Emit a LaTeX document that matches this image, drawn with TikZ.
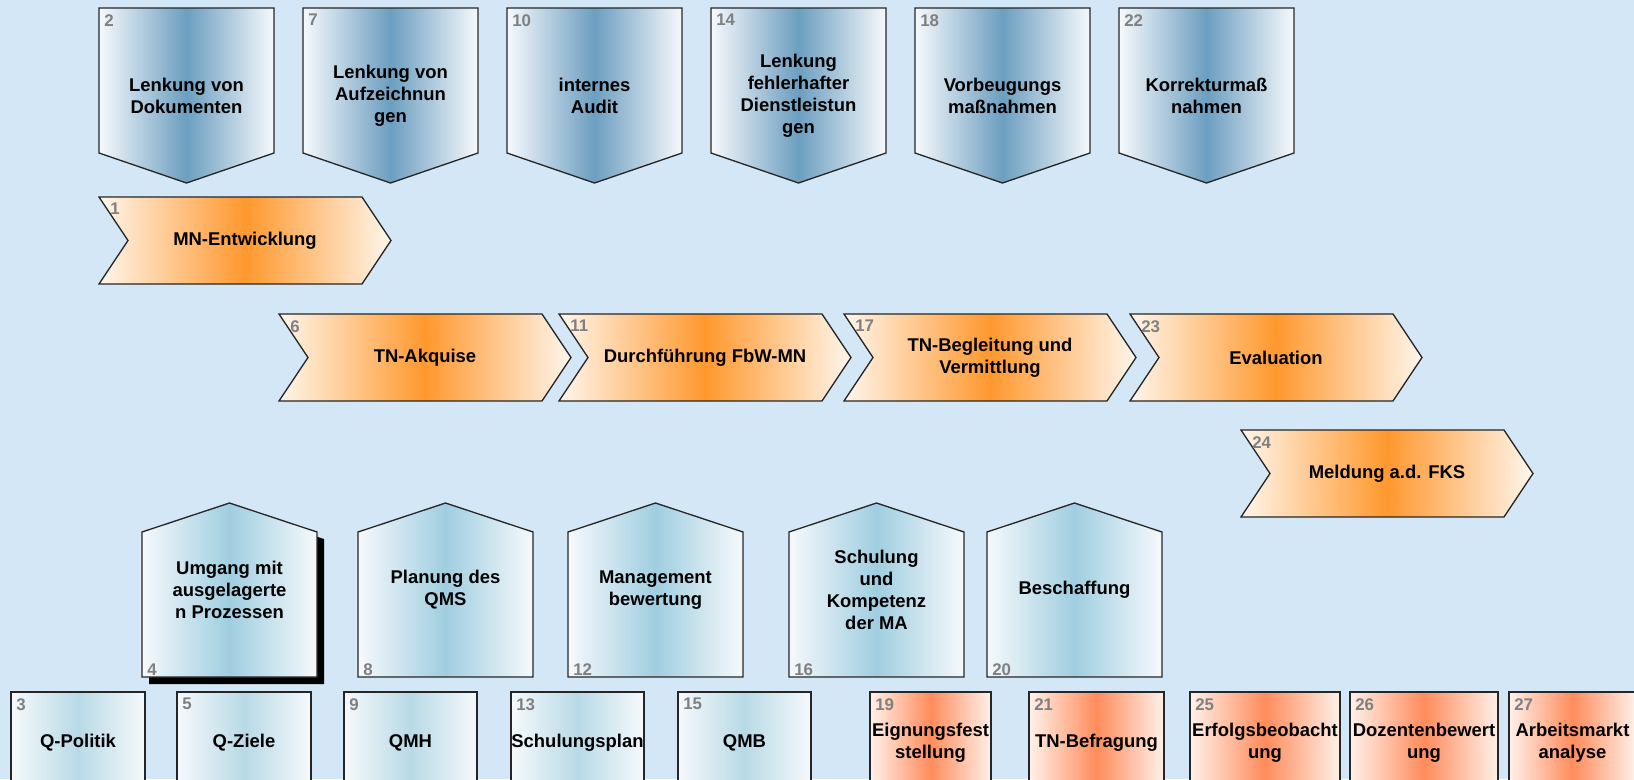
\documentclass[tikz,border=0pt]{standalone}
\usepackage{fontspec}
\setmainfont{Liberation Sans}
\definecolor{hintergrund}{RGB}{212,231,246}
\definecolor{stahlblau}{RGB}{108,158,192}
\definecolor{hausblau}{RGB}{160,206,224}
\definecolor{kastenblau}{RGB}{184,218,230}
\definecolor{randweiss}{RGB}{246,249,252}
\definecolor{prozessorange}{RGB}{255,152,46}
\definecolor{orangehell}{RGB}{255,246,236}
\definecolor{lachs}{RGB}{255,140,92}
\definecolor{lachshell}{RGB}{255,241,234}
\definecolor{nummergrau}{RGB}{128,128,128}
\tikzset{
  rand/.style={draw=black!85, line width=0.75pt},
  blaukopf/.style={left color=randweiss, right color=randweiss, middle color=stahlblau},
  hausstil/.style={left color=randweiss, right color=randweiss, middle color=hausblau},
  orangepfeil/.style={left color=orangehell, right color=orangehell, middle color=prozessorange},
  kleinblau/.style={left color=randweiss, right color=randweiss, middle color=kastenblau},
  kleinorange/.style={left color=lachshell, right color=lachshell, middle color=lachs},
  nummer/.style={text=nummergrau, font=\bfseries\fontsize{9.6}{10}\selectfont, inner sep=0pt, anchor=north west},
  beschrift/.style={font=\bfseries\fontsize{10.5}{12.5}\selectfont, align=center, inner sep=0pt}
}
\begin{document}
\begin{tikzpicture}[x=0.02cm, y=-0.02cm]
  % Hintergrund
  \fill[hintergrund] (0,0) rectangle (1634,779);
  \useasboundingbox (0,0) rectangle (1634,779);
  \clip (0,0) rectangle (1634,779);
  % Lenkungsprozesse (oben)
  \foreach \x/\n/\txt in {99/2/{Lenkung von\\Dokumenten}, 303/7/{Lenkung von\\Aufzeichnun\\gen}, 507/10/{internes\\Audit}, 711/14/{Lenkung\\fehlerhafter\\Dienstleistun\\gen}, 915/18/{Vorbeugungs\\maßnahmen}, 1119/22/{Korrekturmaß\\nahmen}}{
    \shadedraw[rand, blaukopf] (\x,8) -- ++(175,0) -- ++(0,145) -- ++(-87.5,30) -- ++(-87.5,-30) -- cycle;
    \node[nummer] at ({\x+5},14) {\n};
    \node[beschrift] (p\n) at ({\x+87.5},95.5) {\txt};
  }
  % Kernprozesse (Pfeile)
  \foreach \x/\y/\n/\txt in {99/197/1/{MN-Entwicklung}, 279/314/6/{TN-Akquise}, 559/314/11/{Durchführung FbW-MN}, 844/314/17/{TN-Begleitung und\\Vermittlung}, 1130/314/23/{Evaluation}, 1241/430/24/{Meldung a.d. FKS}}{
    \shadedraw[rand, orangepfeil] (\x,\y) -- ++(263,0) -- ++(29,43.5) -- ++(-29,43.5) -- ++(-263,0) -- ++(29,-43.5) -- cycle;
    \node[nummer] at ({\x+11},{\y+6}) {\n};
    \node[beschrift] (c\n) at ({\x+146},{\y+43.5}) {\txt};
  }
  % Schatten
  \fill[black, shift={(7,7)}] (142,677) -- ++(175,0) -- ++(0,-145) -- ++(-87.5,-29) -- ++(-87.5,29) -- cycle;
  % Unterstuetzende Prozesse (Haeuser)
  \foreach \x/\n/\txt in {142/4/{Umgang mit\\ausgelagerte\\n Prozessen}, 358/8/{Planung des\\QMS}, 568/12/{Management\\bewertung}, 789/16/{Schulung\\und\\Kompetenz\\der MA}, 987/20/{Beschaffung}}{
    \shadedraw[rand, hausstil] (\x,677) -- ++(175,0) -- ++(0,-145) -- ++(-87.5,-29) -- ++(-87.5,29) -- cycle;
    \node[nummer, anchor=south west] at ({\x+5},676) {\n};
    \node[beschrift] (h\n) at ({\x+87.5},590) {\txt};
  }
  % Dokumente (unten)
  \foreach \x/\w/\n/\art/\txt in {11/134/3/kleinblau/{Q-Politik}, 177/134/5/kleinblau/{Q-Ziele}, 344/133/9/kleinblau/{QMH}, 511/133/13/kleinblau/{Schulungsplan}, 678/133/15/kleinblau/{QMB}, 870/121/19/kleinorange/{Eignungsfest\\stellung}, 1029/135/21/kleinorange/{TN-Befragung}, 1190/150/25/kleinorange/{Erfolgsbeobacht\\ung}, 1350/148/26/kleinorange/{Dozentenbewert\\ung}, 1509/127/27/kleinorange/{Arbeitsmarkt\\analyse}}{
    \shadedraw[rand, \art] (\x,692) rectangle ++(\w,120);
    \node[nummer] at ({\x+5},698) {\n};
    \node[beschrift] (k\n) at ({\x+\w/2},743) {\txt};
  }
\end{tikzpicture}
\end{document}
